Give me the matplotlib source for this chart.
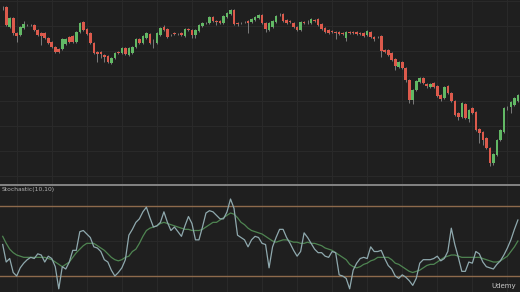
import matplotlib
matplotlib.use("Agg")
import matplotlib.pyplot as plt
import numpy as np

# candle data (price units), one entry per bar
opens = [192, 193, 173, 182, 167, 165, 172, 175, 175, 175,
         170, 167, 167, 162, 158, 153, 151, 151, 156, 163,
         164, 158, 168, 178, 171, 167, 157, 148, 148, 145,
         144, 137, 142, 148, 147, 152, 145, 147, 153, 161,
         157, 162, 166, 158, 157, 165, 173, 171, 165, 167,
         166, 167, 164, 171, 170, 165, 169, 174, 177, 177,
         183, 179, 179, 177, 183, 186, 190, 177, 177, 178,
         179, 178, 180, 182, 185, 177, 170, 173, 178, 185,
         186, 180, 179, 177, 173, 170, 178, 178, 177, 180,
         181, 176, 172, 170, 169, 168, 168, 167, 162, 168,
         168, 168, 167, 167, 165, 168, 163, 163, 164, 150,
         150, 147, 141, 133, 138, 132, 120, 100, 110, 118,
         122, 116, 113, 117, 114, 105, 102, 114, 107, 99,
         87, 83, 96, 81, 92, 88, 71, 68, 62, 52,
         37, 45, 60, 68, 92, 93, 95, 99]
closes = [192, 175, 182, 167, 164, 173, 176, 175, 175, 170,
          165, 164, 162, 157, 153, 148, 148, 161, 161, 158,
          158, 168, 177, 170, 166, 157, 147, 146, 146, 143,
          138, 142, 147, 147, 152, 146, 152, 153, 161, 157,
          164, 167, 157, 158, 167, 172, 170, 163, 165, 166,
          166, 165, 171, 170, 165, 170, 175, 177, 177, 183,
          179, 178, 177, 184, 187, 190, 176, 176, 177, 178,
          177, 181, 183, 185, 177, 171, 177, 179, 184, 185,
          179, 177, 178, 173, 170, 178, 177, 178, 181, 179,
          175, 171, 168, 167, 168, 167, 166, 166, 168, 167,
          167, 166, 166, 164, 169, 163, 161, 163, 149, 148,
          145, 140, 134, 138, 132, 120, 100, 110, 119, 122,
          117, 114, 116, 113, 104, 101, 113, 107, 99, 85,
          83, 97, 82, 90, 87, 70, 67, 60, 52, 37,
          46, 60, 70, 92, 92, 98, 102, 105]
highs = [194, 194, 183, 183, 168, 174, 179, 176, 176, 176,
         171, 168, 168, 163, 159, 154, 152, 162, 162, 164,
         165, 169, 178, 179, 172, 168, 158, 149, 149, 146,
         145, 143, 148, 149, 153, 153, 153, 154, 162, 162,
         165, 168, 167, 161, 168, 173, 175, 172, 166, 168,
         167, 168, 172, 172, 171, 171, 176, 178, 178, 184,
         184, 180, 180, 185, 188, 191, 191, 178, 178, 179,
         180, 182, 184, 186, 186, 178, 178, 180, 185, 187,
         187, 181, 180, 178, 174, 179, 179, 180, 182, 181,
         182, 177, 173, 171, 170, 169, 169, 168, 169, 169,
         169, 169, 168, 168, 170, 169, 164, 164, 165, 151,
         151, 148, 142, 139, 139, 133, 121, 111, 120, 123,
         123, 117, 117, 118, 115, 106, 114, 115, 108, 100,
         88, 98, 97, 91, 93, 89, 72, 69, 63, 53,
         47, 61, 71, 93, 94, 99, 103, 106]
lows = [190, 174, 172, 165, 158, 164, 171, 174, 174, 169,
        164, 155, 161, 156, 152, 147, 147, 150, 155, 157,
        157, 157, 167, 169, 165, 156, 146, 138, 142, 138,
        137, 136, 141, 146, 146, 145, 144, 146, 152, 156,
        156, 161, 156, 152, 156, 164, 169, 162, 164, 165,
        165, 164, 163, 169, 162, 162, 168, 173, 176, 176,
        178, 175, 176, 176, 182, 185, 175, 174, 176, 177,
        167, 177, 179, 181, 176, 168, 169, 172, 177, 184,
        178, 176, 177, 172, 169, 169, 176, 176, 176, 178,
        174, 170, 167, 166, 167, 161, 165, 165, 159, 166,
        166, 165, 165, 163, 164, 162, 159, 162, 143, 147,
        144, 139, 130, 132, 131, 118, 97, 96, 109, 117,
        116, 112, 112, 112, 103, 99, 101, 106, 98, 84,
        80, 82, 81, 78, 86, 69, 57, 55, 51, 34,
        35, 44, 59, 67, 90, 87, 94, 98]

# stochastic oscillator, %K (fast) and %D (slow)
stoch_k = [47, 32, 35, 23, 20, 27, 31, 34, 36, 35,
           39, 38, 32, 37, 35, 28, 9, 28, 26, 32,
           42, 42, 58, 59, 56, 53, 45, 44, 41, 34,
           32, 25, 20, 23, 27, 34, 55, 60, 66, 69,
           75, 79, 70, 62, 63, 66, 75, 66, 59, 62,
           58, 54, 63, 71, 65, 51, 51, 62, 74, 76,
           75, 72, 69, 69, 75, 86, 78, 55, 53, 51,
           45, 51, 54, 53, 48, 47, 27, 45, 53, 60,
           60, 53, 48, 42, 37, 41, 57, 53, 48, 43,
           40, 40, 37, 36, 41, 40, 21, 20, 18, 9,
           25, 31, 35, 36, 35, 45, 41, 41, 42, 35,
           29, 26, 20, 18, 21, 19, 16, 12, 18, 31,
           34, 34, 34, 35, 37, 33, 35, 41, 61, 47,
           36, 24, 24, 32, 31, 41, 39, 32, 28, 27,
           26, 30, 33, 38, 44, 51, 60, 68]
stoch_d = [54, 48, 43, 40, 38, 37, 36, 36, 36, 36,
           36, 36, 36, 35, 34, 32, 30, 28, 30, 32,
           36, 40, 43, 46, 48, 48, 48, 46, 44, 42,
           39, 36, 34, 33, 34, 36, 37, 41, 43, 48,
           54, 59, 61, 62, 63, 65, 66, 65, 64, 63,
           62, 61, 60, 60, 59, 59, 59, 60, 62, 64,
           66, 66, 68, 70, 72, 74, 73, 70, 66, 64,
           61, 59, 58, 57, 56, 54, 52, 50, 49, 50,
           51, 51, 50, 49, 49, 48, 48, 49, 48, 48,
           47, 46, 44, 43, 42, 40, 38, 36, 34, 30,
           28, 27, 28, 30, 31, 33, 34, 36, 36, 36,
           36, 34, 31, 30, 28, 26, 24, 23, 24, 25,
           27, 29, 30, 30, 32, 34, 36, 37, 38, 38,
           37, 36, 36, 36, 36, 36, 36, 35, 34, 33,
           32, 32, 33, 35, 37, 41, 45, 50]

upper_band = 80
lower_band = 20

BG = "#1f1f1f"
GRID = "#292929"
UP = "#62b865"
DOWN = "#dc5a4c"
DOJI = "#a8a8a8"

fig = plt.figure(figsize=(5.2, 2.92), dpi=100, facecolor=BG)
ax = fig.add_axes([0, 108 / 292, 1, 184 / 292], facecolor=BG)
ax2 = fig.add_axes([0, 0, 1, 107 / 292], facecolor=BG, sharex=ax)

o = np.array(opens)
c = np.array(closes)
x = np.arange(len(o))

colors = [UP if cc > oo else (DOWN if cc < oo else DOJI) for oo, cc in zip(o, c)]
ax.vlines(x, lows, highs, color="#8a8a8a", lw=0.6, zorder=2)
body = np.where(c == o, 0.9, c - o)
bottom = np.where(c == o, o - 0.45, o)
ax.bar(x, body, bottom=bottom, width=0.74, color=colors, linewidth=0, zorder=3)

ax.set_ylim(16, 200)
ax.set_xlim(-0.77, 147.6)
ax.set_yticks(np.arange(24, 200, 25))
ax.set_xticks(np.arange(4, 148, 10))
ax.grid(True, color=GRID, lw=0.8)
ax.set_axisbelow(True)
ax.tick_params(left=False, bottom=False, labelleft=False, labelbottom=False)
for s in ax.spines.values():
    s.set_visible(False)

# oscillator pane
ax2.plot(x, stoch_d, color="#4f8552", lw=0.9, zorder=3)
ax2.plot(x, stoch_k, color="#8fa9ae", lw=0.9, zorder=4)
ax2.axhline(upper_band, color="#8d6a4c", lw=1.0, zorder=2)
ax2.axhline(lower_band, color="#8d6a4c", lw=1.0, zorder=2)
ax2.set_ylim(6.3, 98)
ax2.set_yticks([50])
ax2.grid(True, color=GRID, lw=0.8)
ax2.set_axisbelow(True)
ax2.tick_params(left=False, bottom=False, labelleft=False, labelbottom=False)
for name, s in ax2.spines.items():
    s.set_visible(name == "top")
ax2.spines["top"].set_color("#8c8c8c")
ax2.spines["top"].set_linewidth(1.3)

fig.text(1.5 / 520, 1 - 190 / 292, "Stochastic(10,10)", color="#b4b4b4",
         fontsize=4.3, ha="left", va="center")
fig.text(516 / 520, 1 - 286 / 292, "Udemy", color="#c8c8c8",
         fontsize=5, ha="right", va="center")

fig.savefig("out.png", dpi=100, facecolor=BG)
